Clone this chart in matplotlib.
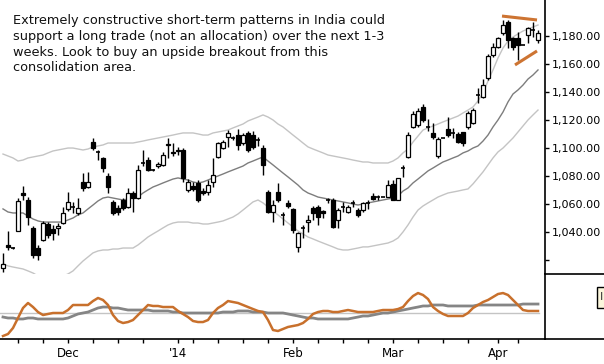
import numpy as np
import matplotlib
matplotlib.use("Agg")
import matplotlib.pyplot as plt
from matplotlib.lines import Line2D
from matplotlib.patches import Rectangle

# daily candles (open, high, low, close), left to right
ohlc = [
    (1014, 1025, 1011, 1017), (1031, 1041, 1027, 1029), (1028.5, 1029.3, 1027.8, 1028.5),
    (1041, 1064, 1041, 1062), (1068, 1073, 1063, 1066.5), (1063, 1065, 1045, 1051),
    (1043, 1044, 1021, 1023.5), (1028.5, 1031, 1020, 1023.5), (1034, 1048, 1033.5, 1046.5),
    (1045.5, 1047, 1035.5, 1038), (1042, 1045, 1034, 1039), (1043, 1046.5, 1038, 1044),
    (1046.5, 1058, 1045.5, 1053.5), (1056.5, 1068.5, 1055, 1061.5), (1058, 1061.5, 1053.5, 1058),
    (1053.5, 1064.5, 1052, 1057), (1076, 1082, 1069.5, 1071.5), (1072, 1083, 1071.5, 1076),
    (1104.5, 1107.5, 1098.5, 1100), (1097, 1099, 1091.5, 1096.5), (1093, 1094, 1083, 1086),
    (1080, 1082, 1068, 1072), (1061.5, 1063, 1052, 1053.5), (1057, 1059.5, 1052, 1054.5),
    (1063, 1064.5, 1055.5, 1057), (1058, 1071.5, 1057, 1068), (1068, 1069.5, 1054.5, 1064.5),
    (1064.5, 1088, 1063.5, 1084.5), (1089.5, 1098.5, 1087, 1090), (1091.5, 1093.5, 1083.5, 1084.5),
    (1084.5, 1085, 1083.5, 1084.5), (1087, 1090, 1086, 1088.5), (1088, 1097.5, 1087, 1095),
    (1102, 1107.5, 1093, 1103), (1097.5, 1103.5, 1094.5, 1096.5), (1098, 1101, 1095, 1099),
    (1098.5, 1100, 1076, 1078.5), (1070, 1078, 1068.5, 1076), (1073, 1076, 1069, 1071),
    (1075, 1077, 1061.5, 1063), (1069.5, 1071.5, 1066.5, 1068), (1068.5, 1077, 1066.5, 1073.5),
    (1076, 1093, 1072, 1081), (1093.5, 1104.5, 1093, 1103.5), (1100, 1106, 1099.5, 1104.5),
    (1108, 1113, 1101, 1111), (1107.5, 1108.5, 1106, 1107), (1109.5, 1113.5, 1098.5, 1102.5),
    (1103.5, 1111, 1102.5, 1109.5), (1111, 1112.5, 1097, 1098.5), (1109.5, 1112.5, 1099.5, 1101),
    (1106, 1108, 1101.5, 1106), (1100, 1102.5, 1081, 1088), (1068.5, 1070, 1053.5, 1054.5),
    (1054.5, 1063, 1047, 1059.5), (1068.5, 1075, 1061.5, 1063), (1052, 1054.5, 1045, 1052),
    (1061, 1063, 1057, 1058.5), (1056.5, 1057, 1039.5, 1041.5), (1029.5, 1040, 1025.5, 1039.5),
    (1043, 1045, 1035.5, 1043.5), (1047, 1052, 1040, 1048.5), (1057, 1058.5, 1048.5, 1053.5),
    (1058, 1059.5, 1045, 1050.5), (1055, 1055.5, 1050, 1053.5), (1063, 1064.5, 1061, 1063),
    (1063, 1064.5, 1043, 1043.5), (1048.5, 1057, 1043, 1055.5), (1058, 1061.5, 1054.5, 1057.5),
    (1054.5, 1059.5, 1053.5, 1058), (1061, 1063, 1058, 1061), (1055.5, 1057, 1050.5, 1052),
    (1055.5, 1061.5, 1054.5, 1061), (1061, 1063, 1056.5, 1061), (1066, 1068, 1063, 1063.5),
    (1065, 1066.5, 1063, 1065), (1065, 1065, 1065, 1065), (1065, 1077, 1065, 1073.5),
    (1074.5, 1077, 1063, 1063), (1063, 1078.5, 1063, 1078.5), (1086, 1088, 1079.5, 1086.5),
    (1093.5, 1111.5, 1093, 1109.5), (1115, 1126.5, 1114.5, 1124.5), (1116.5, 1129, 1115, 1126.5),
    (1129.5, 1131.5, 1119, 1120), (1115, 1121, 1112.5, 1115), (1111, 1118, 1106.5, 1108),
    (1094.5, 1108, 1093, 1106.5), (1107, 1107, 1107, 1107), (1113.5, 1122.5, 1108, 1109.5),
    (1111, 1114.5, 1107.5, 1111), (1110, 1111.5, 1103.5, 1104.5), (1111.5, 1111.5, 1101.5, 1103.5),
    (1115, 1126.5, 1113.5, 1125), (1118, 1129, 1117, 1127.5), (1138, 1143, 1132.5, 1137.5),
    (1136.5, 1149.5, 1136, 1145), (1150, 1167.5, 1149, 1166), (1166.5, 1175.5, 1165, 1172.5),
    (1172.5, 1179.5, 1171.5, 1179), (1182.5, 1192, 1181, 1188), (1190.5, 1192, 1171.5, 1177.5),
    (1179, 1179.5, 1170.5, 1172.5), (1179, 1183, 1163, 1174), (1174, 1174, 1174, 1174),
    (1181, 1187, 1175.5, 1186), (1184.5, 1190.5, 1179.5, 1184.5), (1177.5, 1184.5, 1175.5, 1182.5),
]

mid_band = [
    1056.5, 1054.3, 1053.6, 1053.6, 1053.6, 1051.4, 1049.3, 1047.9, 1047.1, 1047.1,
    1047.1, 1047.1, 1047.1, 1048.6, 1050.0, 1052.2, 1053.6, 1056.5, 1059.3, 1062.2,
    1064.3, 1065.0, 1064.3, 1063.6, 1062.9, 1063.6, 1064.3, 1065.0, 1067.9, 1070.1,
    1072.2, 1073.6, 1075.1, 1076.5, 1077.9, 1078.7, 1077.9, 1077.2, 1075.8, 1075.1,
    1075.8, 1077.2, 1078.7, 1080.1, 1081.5, 1083.0, 1084.4, 1085.8, 1087.2, 1089.4,
    1090.8, 1092.3, 1093.7, 1090.8, 1088.0, 1085.1, 1082.2, 1079.4, 1076.5, 1073.6,
    1070.1, 1067.9, 1066.5, 1065.0, 1064.3, 1063.6, 1062.9, 1062.2, 1061.5, 1060.8,
    1060.0, 1059.3, 1060.0, 1060.8, 1061.5, 1062.2, 1062.9, 1063.6, 1064.3, 1065.8,
    1069.3, 1071.5, 1075.1, 1077.9, 1080.8, 1083.7, 1085.8, 1088.0, 1090.1, 1091.5,
    1093.0, 1094.4, 1096.6, 1098.0, 1100.1, 1101.6, 1105.1, 1109.4, 1115.2, 1120.2,
    1125.9, 1133.1, 1138.8, 1141.7, 1145.2, 1149.5, 1152.4, 1156.0,
]

upper_band = [
    1095.8, 1094.4, 1093.0, 1090.8, 1091.5, 1093.0, 1093.7, 1094.4, 1095.1, 1096.6,
    1098.0, 1098.7, 1099.4, 1100.1, 1100.1, 1099.4, 1098.7, 1099.4, 1100.9, 1101.6,
    1102.3, 1103.7, 1103.7, 1103.7, 1103.7, 1103.7, 1103.7, 1104.4, 1105.1, 1105.9,
    1106.6, 1107.3, 1108.0, 1108.7, 1109.4, 1110.2, 1110.9, 1110.9, 1110.9, 1110.2,
    1109.4, 1109.4, 1110.9, 1111.6, 1112.3, 1113.0, 1114.5, 1115.9, 1117.3, 1119.5,
    1120.9, 1122.3, 1123.8, 1122.3, 1120.2, 1117.3, 1115.2, 1112.3, 1109.4, 1106.6,
    1103.7, 1100.9, 1099.4, 1098.0, 1096.6, 1095.1, 1094.4, 1093.7, 1093.0, 1092.3,
    1091.5, 1090.8, 1090.1, 1090.1, 1089.4, 1089.4, 1089.4, 1089.4, 1090.8, 1093.0,
    1096.6, 1099.4, 1104.4, 1108.7, 1113.0, 1114.5, 1115.9, 1117.3, 1118.8, 1120.2,
    1121.6, 1123.0, 1125.2, 1127.3, 1129.5, 1133.8, 1139.5, 1148.1, 1156.0, 1164.6,
    1171.7, 1176.7, 1179.6, 1181.8, 1183.9, 1185.3, 1186.8, 1188.2,
]

lower_band = [
    1017.1, 1015.7, 1014.9, 1014.2, 1013.5, 1012.1, 1010.6, 1008.5, 1007.1, 1006.3,
    1006.3, 1007.1, 1008.5, 1009.9, 1012.1, 1015.7, 1019.2, 1022.1, 1025.0, 1026.4,
    1027.1, 1027.1, 1027.8, 1027.8, 1028.5, 1028.5, 1028.5, 1030.7, 1033.5, 1036.4,
    1038.6, 1040.7, 1042.9, 1045.0, 1046.4, 1047.1, 1047.1, 1047.1, 1046.4, 1046.4,
    1045.7, 1045.7, 1046.4, 1047.1, 1047.9, 1049.3, 1050.7, 1052.9, 1055.7, 1058.6,
    1061.5, 1062.9, 1060.8, 1057.9, 1055.0, 1052.2, 1049.3, 1046.4, 1043.6, 1040.7,
    1038.6, 1036.4, 1035.0, 1033.5, 1032.1, 1030.7, 1029.3, 1027.8, 1027.1, 1027.1,
    1027.8, 1028.5, 1029.3, 1029.3, 1030.0, 1030.7, 1031.4, 1032.1, 1033.5, 1035.7,
    1040.0, 1045.0, 1050.7, 1055.7, 1058.6, 1060.8, 1062.9, 1065.0, 1066.5, 1067.9,
    1068.6, 1069.3, 1070.1, 1070.8, 1074.4, 1078.7, 1083.0, 1088.0, 1093.0, 1097.3,
    1100.1, 1103.7, 1107.3, 1111.6, 1115.9, 1120.2, 1123.8, 1127.3,
]

# lower panel oscillator lines
osc_fast = [
    4.6, 7.7, 16.9, 32.3, 47.7, 55.4, 49.2, 41.5, 36.9, 38.5,
    40.0, 40.0, 40.0, 44.6, 52.3, 52.3, 52.3, 52.3, 58.4, 63.1,
    60.0, 52.3, 36.9, 27.7, 24.6, 26.1, 29.2, 36.9, 44.6, 52.3,
    50.8, 50.8, 49.2, 49.2, 49.2, 43.1, 38.5, 33.8, 27.7, 26.1,
    26.1, 29.2, 40.0, 47.7, 52.3, 58.4, 56.9, 55.4, 52.3, 49.2,
    46.1, 43.1, 41.5, 29.2, 13.8, 12.3, 15.4, 18.5, 20.0, 21.5,
    24.6, 30.8, 38.5, 41.5, 43.1, 43.1, 41.5, 41.5, 43.1, 44.6,
    43.1, 41.5, 41.5, 41.5, 41.5, 43.1, 44.6, 44.6, 44.6, 46.1,
    49.2, 58.4, 66.1, 70.7, 67.7, 61.5, 49.2, 43.1, 38.5, 35.4,
    35.4, 35.4, 35.4, 40.0, 47.7, 52.3, 56.9, 60.0, 64.6, 69.2,
    70.7, 67.7, 60.0, 52.3, 44.6, 43.1, 43.1, 43.1,
]

osc_slow = [
    33.8, 32.3, 32.3, 30.8, 30.8, 32.3, 32.3, 30.8, 30.8, 30.8,
    30.8, 30.8, 30.8, 32.3, 35.4, 38.5, 40.0, 41.5, 44.6, 47.7,
    49.2, 49.2, 47.7, 47.7, 46.1, 44.6, 44.6, 44.6, 44.6, 44.6,
    43.1, 43.1, 43.1, 43.1, 41.5, 41.5, 40.0, 40.0, 40.0, 40.0,
    40.0, 40.0, 40.0, 40.0, 41.5, 41.5, 41.5, 43.1, 43.1, 43.1,
    41.5, 41.5, 41.5, 40.0, 40.0, 40.0, 40.0, 38.5, 36.9, 35.4,
    33.8, 32.3, 32.3, 30.8, 30.8, 30.8, 30.8, 30.8, 30.8, 30.8,
    32.3, 33.8, 35.4, 35.4, 36.9, 38.5, 40.0, 40.0, 41.5, 43.1,
    44.6, 46.1, 47.7, 49.2, 50.8, 50.8, 52.3, 52.3, 52.3, 50.8,
    50.8, 50.8, 50.8, 50.8, 50.8, 52.3, 52.3, 52.3, 52.3, 52.3,
    52.3, 52.3, 52.3, 52.3, 53.8, 53.8, 53.8, 53.8,
]
osc_ref = 40.0

# consolidation trendlines (candle index, price)
top_line = ([99.8, 106.8], [1194.6, 1191.8])
bottom_line = ([102.4, 106.8], [1159.6, 1169.6])

price_ticks = [1020, 1040, 1060, 1080, 1100, 1120, 1140, 1160, 1180]
week_ticks = [3, 8, 13, 18, 23, 28, 35, 38, 43, 48, 53, 58, 63, 68, 73, 78, 83, 88, 93, 99, 103]
month_pos = [13, 35, 58, 78, 99]
month_lbl = ["Dec", "'14", "Feb", "Mar", "Apr"]

note = ("Extremely constructive short-term patterns in India could\n"
        "support a long trade (not an allocation) over the next 1-3\n"
        "weeks. Look to buy an upside breakout from this\n"
        "consolidation area.")

W, H = 604, 364
fig = plt.figure(figsize=(W / 100, H / 100), dpi=100)
right = 545 / W
y_split = (H - 274) / H
y_bot = (H - 339) / H
ax = fig.add_axes([0, y_split, right, 1 - y_split])
ax2 = fig.add_axes([0, y_bot, right, y_split - y_bot], sharex=ax)

o = np.array([c[0] for c in ohlc])
h = np.array([c[1] for c in ohlc])
l = np.array([c[2] for c in ohlc])
c = np.array([c[3] for c in ohlc])
x = np.arange(len(o))

ax.plot(x, upper_band, color="#c4c4c4", lw=1, zorder=1)
ax.plot(x, lower_band, color="#c4c4c4", lw=1, zorder=1)
ax.plot(x, mid_band, color="#7d7d7d", lw=1, zorder=1)

ax.vlines(x, l, h, color="black", lw=1, zorder=2)
body = np.abs(c - o)
lo = np.minimum(o, c)
flat = body < 0.6
up = (c > o) & ~flat
down = (c < o) & ~flat
ax.bar(x[up], body[up], bottom=lo[up], width=0.62, facecolor="white",
       edgecolor="black", lw=0.9, zorder=3)
ax.bar(x[down], body[down], bottom=lo[down], width=0.62, facecolor="black",
       edgecolor="black", lw=0.9, zorder=3)
ax.hlines(o[flat], x[flat] - 0.4, x[flat] + 0.4, color="black", lw=1.2, zorder=3)

ax.plot(*top_line, color="#cd7432", lw=2.2, solid_capstyle="butt", zorder=4)
ax.plot(*bottom_line, color="#cd7432", lw=2.2, solid_capstyle="butt", zorder=4)

ax.set_xlim(-0.6, 108.4)
ax.set_ylim(1009.9, 1206.1)
ax.yaxis.tick_right()
ax.set_yticks(price_ticks)
ax.set_yticklabels([""] + [f"{v:,.2f}" for v in price_ticks[1:]])
ax.tick_params(axis="y", direction="out", length=3, width=1, pad=2, labelsize=8)
ax.tick_params(axis="x", which="both", bottom=False, labelbottom=False)
for s in ["top", "left", "bottom"]:
    ax.spines[s].set_visible(False)
ax.spines["right"].set_linewidth(1.2)

ax2.axhline(osc_ref, color="#c4c4c4", lw=1, xmax=(107.2 + 0.6) / 109)
ax2.plot(x, osc_slow, color="#858585", lw=2, zorder=2)
ax2.plot(x, osc_fast, color="#c8702c", lw=1.8, zorder=3)
ax2.set_ylim(0, 100)
ax2.set_yticks([])
ax2.set_xticks(week_ticks, minor=True)
ax2.set_xticks(month_pos)
ax2.set_xticklabels(month_lbl)
ax2.tick_params(axis="x", which="both", direction="out", length=3, width=1,
                labelsize=8.5, pad=3)
for s in ["top", "left"]:
    ax2.spines[s].set_visible(False)
ax2.spines["right"].set_linewidth(1.2)
ax2.spines["bottom"].set_linewidth(1.2)

# frame pieces outside the plotting area
fig.add_artist(Line2D([right, 1], [y_bot, y_bot], color="black", lw=1.2))
fig.add_artist(Line2D([right, 1], [y_split, y_split], color="black", lw=1.2))
fig.add_artist(Rectangle((597 / W, (H - 308) / H), 10 / W, 21 / H,
                         facecolor="#fbf6dc", edgecolor="black", lw=1))
fig.text(600 / W, (H - 297.5) / H, "I", fontsize=8, va="center", ha="left", color="#333333")

fig.text(13 / W, 1 - 14 / H, note, fontsize=9.3, va="top", ha="left",
         linespacing=1.28, color="#111111")

fig.savefig("out.png", dpi=100)
